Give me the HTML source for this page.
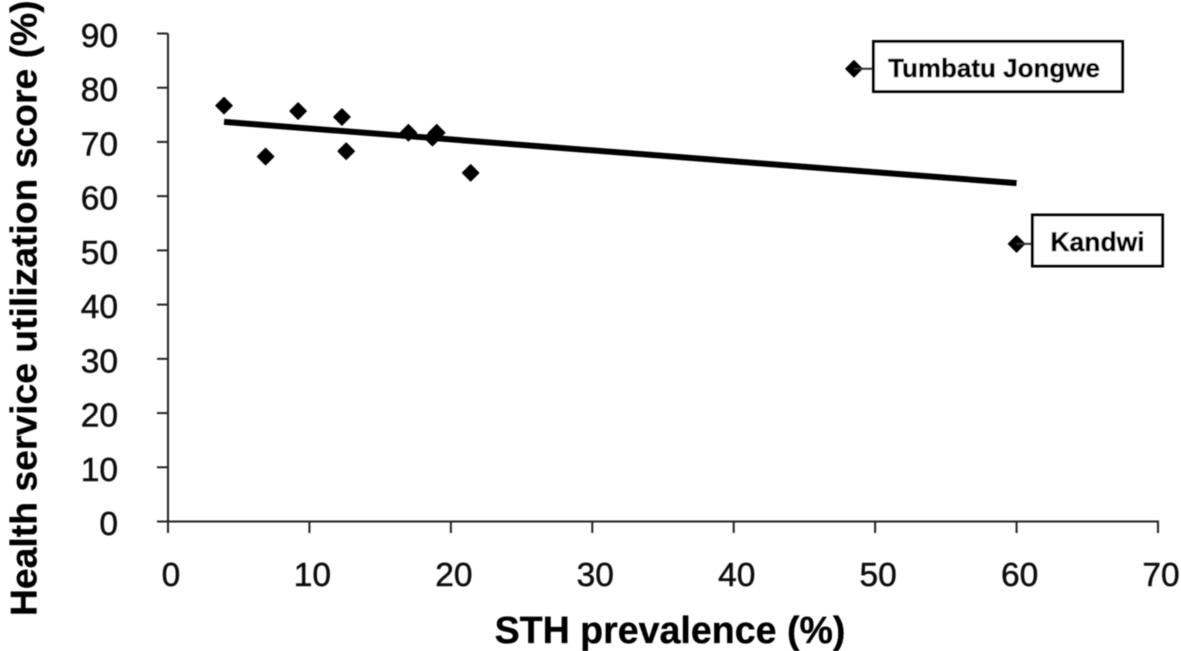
<!DOCTYPE html>
<html lang="en">
<head>
<meta charset="utf-8">
<title>Health service utilization vs STH prevalence</title>
<style>
html,body{margin:0;padding:0;background:#fff;}
body{width:1181px;height:651px;overflow:hidden;}
svg{display:block;font-family:"Liberation Sans",Arial,sans-serif;}
</style>
</head>
<body>
<svg id="chart" xmlns="http://www.w3.org/2000/svg" width="1181" height="651" viewBox="0 0 1181 651">
  <defs><filter id="soft" x="-5%" y="-5%" width="110%" height="110%"><feGaussianBlur stdDeviation="0.6"/></filter></defs>
  <g id="root" filter="url(#soft)"></g>
</svg>
<script>
const xTicks = [0, 10, 20, 30, 40, 50, 60, 70];
const yTicks = [0, 10, 20, 30, 40, 50, 60, 70, 80, 90];
const prevalence = [3.96, 6.9, 9.2, 12.3, 12.6, 17.0, 18.7, 19.0, 21.4, 48.5, 60.0];
const utilization = [76.7, 67.3, 75.7, 74.6, 68.3, 71.7, 70.8, 71.7, 64.3, 83.5, 51.2];
const trendX = [3.96, 60.0];
const trendY = [73.7, 62.4];
const xTitle = "STH prevalence (%)";
const yTitle = "Health service utilization score (%)";
const calloutNames = ["Tumbatu Jongwe", "Kandwi"];
const calloutPointIndex = [9, 10];

const NS = "http://www.w3.org/2000/svg";
const root = document.getElementById("root");
const sx = v => 168 + (v - 0) * (1158 - 168) / 70;
const sy = v => 521.5 - (v - 0) * (521.5 - 33.5) / 90;

function make(tag, attrs, text) {
  const el = document.createElementNS(NS, tag);
  for (const k in attrs) el.setAttribute(k, attrs[k]);
  if (text !== undefined) el.textContent = text;
  root.appendChild(el);
  return el;
}

const yAxis = make("line", {x1: sx(0), x2: sx(0), y1: sy(90), y2: 533, stroke: "#222", "stroke-width": 2});


const xAxis = make("line", {x1: 157, x2: sx(70) + 1, y1: sy(0), y2: sy(0), stroke: "#222", "stroke-width": 2});



yTicks.forEach(v => {
  const t = make("line", {x1: 157, x2: sx(0), y1: sy(v), y2: sy(v), stroke: "#222", "stroke-width": 2});
  
  
  const l = make("text", {x: 118, y: sy(v) + 13.5, "text-anchor": "end", "font-size": 33.5, fill: "#111", stroke: "#111", "stroke-width": 0.5}, String(v));
  
  
});

xTicks.forEach(v => {
  const t = make("line", {x1: sx(v), x2: sx(v), y1: sy(0), y2: 533, stroke: "#222", "stroke-width": 2});
  
  
  const l = make("text", {x: sx(v) + 3, y: 586, "text-anchor": "middle", "font-size": 33.5, fill: "#111", stroke: "#111", "stroke-width": 0.5}, String(v));
  
  
});

const trend = make("line", {x1: sx(trendX[0]), y1: sy(trendY[0]), x2: sx(trendX[1]), y2: sy(trendY[1]), stroke: "#000", "stroke-width": 6});



prevalence.forEach((v, i) => {
  const cx = sx(v), cy = sy(utilization[i]), r = 8;
  const p = make("polygon", {points: `${cx},${cy - r} ${cx + r},${cy} ${cx},${cy + r} ${cx - r},${cy}`, fill: "#000", stroke: "#000", "stroke-width": 1.5, "stroke-linejoin": "round"});
  
  
});

const boxes = [
  {x: 873.5, y: 41.5, w: 249, h: 50, tx: 994, ty: 77, fs: 26},
  {x: 1032.5, y: 215, w: 130, h: 51, tx: 1097.5, ty: 251, fs: 26.5}
];
calloutNames.forEach((name, i) => {
  const b = boxes[i];
  const pi = calloutPointIndex[i];
  const py = sy(utilization[pi]);
  const c = make("line", {x1: sx(prevalence[pi]), x2: b.x, y1: py, y2: py, stroke: "#333", "stroke-width": 2});
  
  
  const r = make("rect", {x: b.x, y: b.y, width: b.w, height: b.h, fill: "#fff", stroke: "#000", "stroke-width": 3});
  
  
  const t = make("text", {x: b.tx, y: b.ty, "text-anchor": "middle", "font-size": b.fs, "font-weight": "bold", fill: "#000", stroke: "#000", "stroke-width": 0.5}, name);
  
  
});

const xt = make("text", {x: 670, y: 643, "text-anchor": "middle", "font-size": 37.6, "font-weight": "bold", fill: "#000", stroke: "#000", "stroke-width": 0.3}, xTitle);


const yt = make("text", {x: 0, y: 0, transform: "translate(36.5 616) rotate(-90)", "font-size": 37.3, "font-weight": "bold", fill: "#000", stroke: "#000", "stroke-width": 0.3}, yTitle);


</script>
</body>
</html>
